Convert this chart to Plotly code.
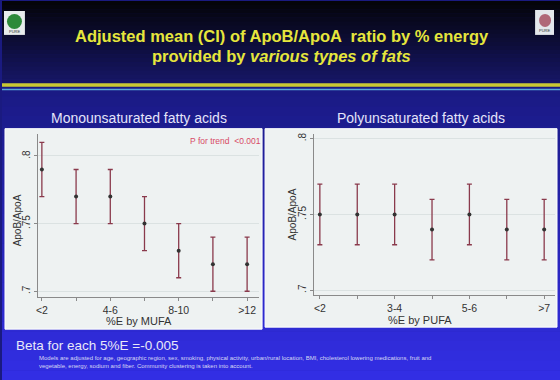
import plotly.graph_objects as go

W, H = 560, 380

# ---- data ----
mufa_cats = ["<2", "2-4", "4-6", "6-8", "8-10", "10-12", ">12"]
mufa_mean = [0.79, 0.77, 0.77, 0.75, 0.73, 0.72, 0.72]
mufa_lo = [0.77, 0.75, 0.75, 0.73, 0.71, 0.70, 0.70]
mufa_hi = [0.81, 0.79, 0.79, 0.77, 0.75, 0.74, 0.74]

pufa_cats = ["<2", "2-3", "3-4", "4-5", "5-6", "6-7", ">7"]
pufa_mean = [0.75, 0.75, 0.75, 0.74, 0.75, 0.74, 0.74]
pufa_lo = [0.73, 0.73, 0.73, 0.72, 0.73, 0.72, 0.72]
pufa_hi = [0.77, 0.77, 0.77, 0.76, 0.77, 0.76, 0.76]

mufa_ticklabels = ["<2", "", "4-6", "", "8-10", "", ">12"]
pufa_ticklabels = ["<2", "", "3-4", "", "5-6", "", ">7"]
y_tickvals = [0.7, 0.75, 0.8]
y_ticktext = [".7", ".75", ".8"]


def px(x):
    return x / W


def py(y):
    return 1 - y / H


def lerp(c1, c2, t):
    return "rgb(%d,%d,%d)" % tuple(int(round(a + (b - a) * t)) for a, b in zip(c1, c2))


fig = go.Figure()

bar_color = "#8a3a4c"
mk_color = "#333333"

for cats, mean, lo, hi, xa, ya in [
    (mufa_cats, mufa_mean, mufa_lo, mufa_hi, "x", "y"),
    (pufa_cats, pufa_mean, pufa_lo, pufa_hi, "x2", "y2"),
]:
    xs = list(range(len(cats)))
    fig.add_trace(go.Scatter(
        x=xs, y=mean, mode="markers", xaxis=xa, yaxis=ya,
        marker=dict(size=4, color=mk_color),
        error_y=dict(type="data", symmetric=False,
                     array=[h - m for h, m in zip(hi, mean)],
                     arrayminus=[m - l for m, l in zip(mean, lo)],
                     color=bar_color, thickness=1.3, width=2.5),
        text=cats, hoverinfo="text+y", showlegend=False,
    ))

shapes = []
# background gradient: top dark band
n = 20
for k in range(n):
    y0 = 82 * k / n
    y1 = 82 * (k + 1) / n + 0.5
    shapes.append(dict(type="rect", xref="paper", yref="paper", layer="below",
                       x0=0, x1=1, y0=py(y1), y1=py(y0), line=dict(width=0),
                       fillcolor=lerp((4, 4, 10), (22, 22, 100), k / (n - 1))))
# lower band gradient
n2 = 30
for k in range(n2):
    y0 = 86 + (H - 86) * k / n2
    y1 = 86 + (H - 86) * (k + 1) / n2 + 0.5
    shapes.append(dict(type="rect", xref="paper", yref="paper", layer="below",
                       x0=0, x1=1, y0=py(y1), y1=py(y0), line=dict(width=0),
                       fillcolor=lerp((26, 26, 132), (50, 46, 228), k / (n2 - 1))))
# yellow and cyan lines
shapes.append(dict(type="rect", xref="paper", yref="paper", layer="below",
                   x0=0, x1=1, y0=py(86), y1=py(82.5), line=dict(width=0),
                   fillcolor="#c9c832"))
shapes.append(dict(type="rect", xref="paper", yref="paper", layer="below",
                   x0=0, x1=1, y0=py(89.5), y1=py(88), line=dict(width=0),
                   fillcolor="#5aa8d8"))
# panels
shapes.append(dict(type="rect", xref="paper", yref="paper", layer="below",
                   x0=px(3), x1=px(261), y0=py(329), y1=py(128),
                   line=dict(width=1, color="#ffffff"), fillcolor="#eef2f2"))
shapes.append(dict(type="rect", xref="paper", yref="paper", layer="below",
                   x0=px(264), x1=px(557), y0=py(327), y1=py(128),
                   line=dict(width=1, color="#ffffff"), fillcolor="#eef2f2"))
# logos
shapes.append(dict(type="rect", xref="paper", yref="paper", layer="below",
                   x0=px(2), x1=px(23), y0=py(34), y1=py(10),
                   line=dict(width=0), fillcolor="#e8ecec"))
shapes.append(dict(type="circle", xref="paper", yref="paper", layer="below",
                   x0=px(5), x1=px(20), y0=py(28), y1=py(13),
                   line=dict(width=0), fillcolor="#2e8a3a"))
shapes.append(dict(type="rect", xref="paper", yref="paper", layer="below",
                   x0=px(535), x1=px(554), y0=py(34), y1=py(9),
                   line=dict(width=0), fillcolor="#e4e8ec"))
shapes.append(dict(type="circle", xref="paper", yref="paper", layer="below",
                   x0=px(539), x1=px(551), y0=py(26), y1=py(13),
                   line=dict(width=0), fillcolor="#b06878"))

font_family = "Liberation Sans, Arial, sans-serif"
ann = []


def text(x, y, s, size, color, **kw):
    d = dict(x=px(x), y=py(y), xref="paper", yref="paper", text=s, showarrow=False,
             xanchor="center", yanchor="middle",
             font=dict(size=size, color=color, family=font_family))
    d.update(kw)
    ann.append(d)


text(281, 35, "<b>Adjusted mean (CI) of ApoB/ApoA  ratio by % energy</b>", 16.5, "#e6e63c")
text(281, 55, "<b>provided by <i>various types of fats</i></b>", 16.5, "#e6e63c")
text(137, 117, "Monounsaturated fatty acids", 14, "#e4e4fa")
text(420, 117, "Polyunsaturated fatty acids", 14, "#e4e4fa")
text(15, 220, "ApoB/ApoA", 10, "#333333", textangle=-90)
text(291, 214, "ApoB/ApoA", 10, "#333333", textangle=-90)
text(137, 321, "%E by MUFA", 11, "#333333")
text(419, 320, "%E by PUFA", 11, "#333333")
text(262, 140, "P for trend  <0.001", 8.5, "#d84a66", xanchor="right")
text(12, 345, "Beta for each 5%E =-0.005", 13.5, "#e8e8f8", xanchor="left")
text(35, 358, "Models are adjusted for age, geographic region, sex, smoking, physical activity, urban/rural location, BMI, cholesterol lowering medications, fruit and",
     6, "#d8d8f4", xanchor="left")
text(35, 366, "vegetable, energy, sodium and fiber. Community clustering is taken into account.",
     6, "#d8d8f4", xanchor="left")
text(12.5, 31, "PURE", 4, "#333333")
text(544.5, 30, "PURE", 4, "#333333")

axis_common = dict(showline=True, linecolor="#8a8a8a", linewidth=1, ticks="outside",
                   ticklen=3, tickcolor="#8a8a8a", zeroline=False)
xfont = dict(size=10.5, color="#333333", family=font_family)
yfont = dict(size=10, color="#333333", family=font_family)

layout = dict(
    width=W, height=H, margin=dict(l=0, r=0, t=0, b=0),
    paper_bgcolor="#1a1a80", plot_bgcolor="rgba(0,0,0,0)",
    shapes=shapes, annotations=ann, showlegend=False,
    xaxis=dict(domain=[px(36), px(258)], range=[-0.117, 6.35], anchor="y",
               tickvals=list(range(7)), ticktext=mufa_ticklabels, showgrid=False,
               tickfont=xfont, **axis_common),
    yaxis=dict(domain=[py(297), py(133)], range=[0.6956, 0.8165], anchor="x",
               tickvals=y_tickvals, ticktext=y_ticktext, tickangle=-90,
               showgrid=True, gridcolor="#dbe2e2", gridwidth=1,
               tickfont=yfont, **axis_common),
    xaxis2=dict(domain=[px(313), px(555)], range=[-0.16, 6.29], anchor="y2",
                tickvals=list(range(7)), ticktext=pufa_ticklabels, showgrid=False,
                tickfont=xfont, **axis_common),
    yaxis2=dict(domain=[py(295), py(133)], range=[0.6967, 0.8033], anchor="x2",
                tickvals=y_tickvals, ticktext=y_ticktext, tickangle=-90,
                showgrid=True, gridcolor="#dbe2e2", gridwidth=1,
                tickfont=yfont, **axis_common),
)
fig.update_layout(**layout)
fig.write_html("out.html", config={"displayModeBar": False},
               post_script="document.body.style.margin='0';document.body.style.overflow='hidden';")
